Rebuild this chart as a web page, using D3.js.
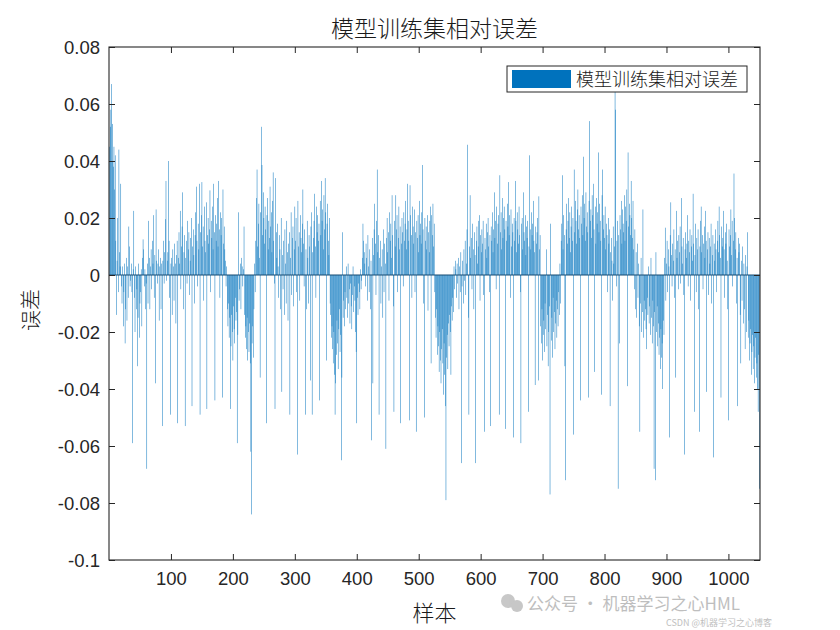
<!DOCTYPE html>
<html>
<head>
<meta charset="utf-8">
<script src="https://cdn.jsdelivr.net/npm/d3@7/dist/d3.min.js"></script>
<style>
html,body{margin:0;padding:0;background:#fff;}
svg{display:block;}
</style>
</head>
<body>
<svg id="chart" width="840" height="630"></svg>
<script>
const titleText = "模型训练集相对误差";
const legendText = "模型训练集相对误差";
const xLabel = "样本";
const yLabel = "误差";
const xTicks = [100,200,300,400,500,600,700,800,900,1000];
const xTickLabels = ["100","200","300","400","500","600","700","800","900","1000"];
const yTicks = [0.08,0.06,0.04,0.02,0,-0.02,-0.04,-0.06,-0.08,-0.1];
const yTickLabels = ["0.08","0.06","0.04","0.02","0","-0.02","-0.04","-0.06","-0.08","-0.1"];

const errors = [
0.045,0.052,0.058,0.067,0.04,0.053,0.038,0.045,0.03,0.042,
0.012,-0.014,0.005,0.02,-0.006,0.044,0.008,0.003,0.032,-0.004,
-0.01,0.003,-0.018,-0.006,0.004,-0.024,-0.012,0.006,-0.016,0.003,
-0.008,0.017,0.01,-0.004,-0.002,0.004,-0.006,-0.059,0.002,0.0225,
-0.008,-0.02,0.003,-0.012,-0.005,-0.032,-0.015,0.004,-0.022,-0.01,
-0.006,0.002,-0.018,0.006,0.0125,0.009,-0.004,0.002,-0.012,-0.003,
-0.068,0.004,-0.01,0.019,0.006,-0.012,0.003,0.009,-0.005,0.012,
0.004,0.021,-0.008,0.007,-0.038,0.023,0.005,-0.003,0.004,0.009,
-0.016,0.003,0.006,-0.012,0.004,-0.053,0.005,0.012,-0.003,0.008,
0.0196,0.033,-0.002,0.005,0.008,0.04,0.012,-0.008,-0.049,0.004,
0.006,-0.014,0.009,0.003,-0.009,0.011,0.004,-0.017,0.007,0.012,
-0.052,0.006,0.015,0.004,0.0225,-0.005,0.01,0.017,0.029,-0.012,
0.008,0.014,-0.053,0.006,0.012,-0.003,0.019,0.009,0.015,-0.007,
0.005,0.013,0.02,-0.046,0.01,0.016,0.007,-0.01,0.014,0.022,
0.031,0.012,-0.004,0.018,0.009,0.032,-0.049,0.015,0.021,0.0326,
0.01,0.017,-0.009,0.024,0.012,0.008,0.0255,-0.047,0.014,0.02,
0.011,0.016,0.0297,-0.006,0.019,0.013,0.024,0.009,0.032,0.015,
-0.044,0.021,0.012,0.018,0.027,0.01,0.033,0.016,-0.008,0.022,
0.014,0.02,-0.043,0.03,0.011,0.017,0.009,0.005,-0.004,0.003,
-0.012,-0.018,-0.01,-0.022,-0.015,-0.047,-0.025,-0.014,-0.02,-0.03,
-0.011,-0.019,-0.024,-0.008,-0.016,-0.013,-0.059,-0.021,0.022,-0.009,
-0.005,0.004,-0.012,0.006,0.003,-0.004,0.002,0.017,-0.014,-0.022,
-0.018,-0.026,-0.015,-0.03,-0.02,-0.027,-0.017,-0.031,-0.062,-0.084,
-0.024,-0.018,-0.029,-0.012,0.004,-0.006,0.012,0.027,0.037,0.01,
0.018,0.025,0.006,-0.036,0.022,0.052,0.0386,0.014,0.029,0.02,
0.011,0.024,0.016,-0.052,0.021,0.027,0.009,0.019,0.013,0.031,
0.017,0.022,0.008,0.026,0.036,0.012,-0.003,-0.047,0.034,0.015,
0.006,0.018,0.003,-0.008,0.014,0.009,-0.012,0.02,-0.041,0.007,
-0.005,0.012,-0.014,0.016,0.004,-0.01,0.019,0.008,-0.016,0.011,
0.015,-0.049,0.006,0.022,-0.007,0.013,0.017,-0.011,0.009,0.024,
0.012,0.02,-0.006,-0.063,0.026,0.01,0.015,-0.009,0.021,0.013,
0.008,0.018,0.03,0.011,-0.004,0.016,-0.049,0.009,-0.012,0.019,
0.006,-0.01,0.014,0.01,-0.037,0.017,0.022,-0.049,0.008,0.013,
0.019,0.0285,0.01,-0.008,0.024,0.015,0.021,0.012,0.018,-0.044,
0.026,0.014,0.033,0.019,0.023,0.009,0.028,0.016,0.034,0.022,
-0.03,0.018,0.025,0.012,0.007,0.02,-0.01,-0.014,-0.022,-0.018,
-0.026,-0.031,-0.02,-0.035,-0.049,-0.038,-0.028,-0.016,-0.024,-0.033,
-0.019,-0.012,-0.027,-0.021,-0.065,-0.036,0.015,-0.015,-0.009,-0.018,
-0.006,-0.012,0.003,-0.008,-0.015,0.004,-0.01,-0.005,-0.017,-0.003,
-0.011,-0.019,-0.007,0.003,-0.013,-0.004,-0.009,-0.02,-0.027,-0.052,
-0.008,-0.014,-0.003,-0.006,-0.012,0.002,-0.005,-0.002,0.006,0.018,
0.012,0.008,0.004,-0.004,0.011,0.006,-0.009,0.014,0.003,-0.006,
0.009,-0.012,0.005,-0.058,0.013,-0.038,0.007,0.016,0.025,0.011,
-0.007,0.019,0.037,0.008,0.014,-0.049,0.006,0.012,-0.01,0.003,
0.009,-0.015,0.016,-0.006,0.011,0.004,-0.061,0.013,0.02,0.008,
0.015,-0.009,0.022,0.012,0.018,0.006,0.028,0.014,-0.011,-0.048,
0.019,0.01,0.028,0.016,0.021,-0.006,0.013,0.024,0.009,0.017,
-0.052,0.011,0.02,0.015,-0.004,0.022,0.012,0.018,0.026,0.009,
0.016,0.032,0.019,0.012,-0.051,0.0315,0.021,0.014,-0.008,0.024,
0.017,0.011,0.023,-0.006,0.015,-0.055,0.019,0.013,0.021,0.008,
0.026,0.014,0.018,0.011,0.022,0.0386,0.016,-0.01,-0.05,0.02,
0.012,0.017,0.009,0.021,-0.0125,0.015,0.008,0.019,0.024,-0.031,
0.021,0.014,0.025,0.01,0.018,-0.006,-0.015,-0.022,-0.012,-0.028,
-0.018,-0.025,-0.034,-0.02,-0.03,-0.038,-0.026,-0.019,-0.031,-0.042,
-0.024,-0.035,-0.046,-0.079,-0.029,-0.021,-0.033,-0.017,-0.025,-0.014,
-0.02,-0.035,-0.011,-0.016,-0.008,-0.013,0.003,-0.005,0.005,0.002,
-0.008,0.004,-0.003,0.006,-0.012,0.003,-0.006,0.008,-0.066,-0.004,
0.005,-0.01,0.009,-0.002,0.012,-0.007,0.004,0.016,0.0457,-0.015,
-0.049,0.01,0.028,0.006,0.013,-0.005,0.018,0.009,-0.012,0.015,
0.007,-0.066,0.012,0.017,0.004,0.01,0.019,0.021,-0.009,0.014,
0.008,0.016,0.011,0.019,-0.007,-0.055,0.013,0.009,0.018,0.006,
0.015,0.02,0.01,-0.006,0.014,-0.053,0.017,0.012,0.022,0.008,
0.016,0.029,0.013,0.019,-0.005,0.024,0.011,0.018,0.021,-0.049,
0.035,0.015,0.022,0.009,0.027,0.013,0.02,0.024,0.016,-0.054,
0.019,0.012,0.025,0.017,0.0326,0.014,0.021,-0.008,0.023,0.01,
0.018,0.015,-0.057,0.02,0.012,0.033,0.019,0.008,0.022,0.016,
0.011,0.024,0.014,-0.006,-0.059,0.018,0.02,0.009,0.029,0.015,
0.012,0.021,0.007,0.017,0.013,0.019,-0.048,0.01,0.042,0.016,
0.009,0.022,0.014,0.018,0.026,0.012,0.008,-0.0386,0.017,0.011,
0.015,0.02,-0.037,0.0276,0.009,0.014,-0.018,-0.024,-0.012,-0.03,
-0.021,-0.016,-0.027,-0.01,-0.019,0.009,-0.025,-0.014,-0.032,-0.02,
-0.011,-0.077,0.018,-0.023,-0.015,-0.029,-0.008,-0.02,-0.013,-0.026,
-0.017,-0.009,-0.022,-0.012,-0.018,-0.006,-0.014,0.004,-0.01,0.012,
0.018,0.035,0.009,0.021,0.014,-0.032,-0.072,0.016,0.025,0.011,
0.019,0.027,0.013,0.022,0.008,0.017,0.024,0.012,0.02,-0.056,
0.037,0.015,0.026,0.019,0.011,0.023,0.03,0.016,0.021,0.013,
-0.044,0.024,0.018,0.028,0.014,0.0415,0.02,0.025,0.012,0.029,
0.017,0.022,0.015,-0.043,0.026,0.054,0.019,0.023,0.013,0.028,
0.021,0.032,0.016,-0.034,0.024,0.011,0.027,0.018,0.022,0.043,
0.015,0.025,0.019,0.012,-0.042,0.028,0.037,0.016,0.021,0.013,
0.024,0.009,0.018,0.014,-0.006,0.02,0.011,0.016,-0.046,0.008,
0.013,0.005,-0.009,0.017,0.004,0.01,0.065,0.058,-0.004,0.012,
0.019,-0.075,0.014,-0.024,0.021,0.016,0.026,0.011,0.023,0.018,
0.015,0.028,0.012,0.024,0.019,0.03,-0.039,0.043,0.017,0.025,
0.021,0.014,0.033,0.02,0.013,0.026,0.009,-0.005,0.016,-0.012,
0.008,-0.015,0.011,-0.008,0.004,-0.018,-0.055,-0.01,0.006,-0.02,
-0.013,0.023,-0.022,-0.009,-0.016,-0.012,-0.019,-0.026,-0.008,-0.014,
0.003,-0.017,-0.011,-0.021,0.006,-0.015,-0.024,-0.009,-0.018,-0.068,
-0.013,-0.072,0.008,-0.02,-0.011,-0.025,-0.017,-0.028,-0.022,-0.033,
-0.019,-0.029,-0.024,-0.04,-0.016,-0.021,0.006,0.0166,-0.009,0.004,
0.012,-0.006,0.009,0.003,-0.057,0.014,0.0255,0.007,-0.004,0.011,
0.005,0.016,-0.008,0.009,-0.036,0.0225,0.006,0.012,-0.005,0.014,
0.008,0.017,-0.003,0.027,0.01,0.004,0.013,-0.007,-0.063,0.009,
0.015,0.006,0.011,0.021,-0.004,0.012,0.008,0.016,-0.009,0.01,
0.014,0.005,0.0285,0.011,-0.048,0.007,0.018,-0.006,0.013,0.009,
0.016,-0.012,-0.055,0.01,0.019,0.024,0.008,0.014,-0.005,0.011,
0.017,0.006,0.0225,0.012,-0.041,0.009,0.015,-0.007,0.013,0.004,
0.01,0.018,-0.01,0.007,0.014,-0.064,0.011,0.005,0.016,0.009,
-0.006,0.012,0.019,0.008,0.024,0.014,0.006,-0.043,0.017,0.01,
0.013,0.0225,0.009,-0.008,0.015,0.011,0.018,0.005,-0.012,-0.051,
0.016,0.01,0.014,0.023,0.007,0.019,-0.004,0.012,0.0356,0.02,
0.009,0.015,-0.01,0.006,-0.046,0.013,0.008,0.011,-0.014,-0.031,
0.005,-0.009,0.01,-0.017,0.004,-0.012,-0.026,0.007,-0.02,0.003,
0.015,-0.022,-0.016,-0.03,-0.024,-0.019,-0.035,-0.027,-0.021,-0.033,
-0.025,-0.038,-0.029,-0.022,-0.036,-0.031,-0.04,-0.048,-0.028,-0.075
];
const samples = errors.map((_, i) => i + 1);

const W = 840, H = 630;
const m = {left:109, right:760, top:47, bottom:560};
const svg = d3.select("#chart");
const barColor = "#0072BD";
const axisColor = "#262626";
const numFont = "'Liberation Sans', Arial, Helvetica, sans-serif";
const cjkFont = "'Noto Sans CJK SC', 'Noto Sans CJK JP', sans-serif";

const x = d3.scaleLinear().domain([0, 1051]).range([m.left, m.right]);
const y = d3.scaleLinear().domain([-0.1, 0.08]).range([m.bottom, m.top]);

svg.append("rect").attr("x",0).attr("y",0).attr("width",W).attr("height",H).attr("fill","#fff");

const bw = (x(2) - x(1)) * 0.8;
svg.append("g").selectAll("rect").data(errors).join("rect")
  .attr("x", (d,i) => x(samples[i]) - bw/2)
  .attr("y", d => y(Math.max(0,d)))
  .attr("width", bw)
  .attr("height", d => Math.abs(y(d) - y(0)))
  .attr("fill", barColor);

// baseline
svg.append("line").attr("x1", m.left).attr("x2", m.right).attr("y1", y(0)).attr("y2", y(0))
  .attr("stroke", "#154a73").attr("stroke-width", 1.2);

// axes
const tickLen = 6;
const gxB = svg.append("g").attr("transform",`translate(0,${m.bottom})`)
  .call(d3.axisBottom(x).tickValues(xTicks).tickSizeInner(-tickLen).tickSizeOuter(0).tickPadding(12)
    .tickFormat((d,i) => xTickLabels[i]));
const gxT = svg.append("g").attr("transform",`translate(0,${m.top})`)
  .call(d3.axisTop(x).tickValues(xTicks).tickSizeInner(-tickLen).tickSizeOuter(0).tickFormat(""));
const gyL = svg.append("g").attr("transform",`translate(${m.left},0)`)
  .call(d3.axisLeft(y).tickValues(yTicks).tickSizeInner(-tickLen).tickSizeOuter(0).tickPadding(9)
    .tickFormat((d,i) => yTickLabels[i]));
const gyR = svg.append("g").attr("transform",`translate(${m.right},0)`)
  .call(d3.axisRight(y).tickValues(yTicks).tickSizeInner(-tickLen).tickSizeOuter(0).tickFormat(""));
[gxB,gxT,gyL,gyR].forEach(g => {
  g.select(".domain").remove();
  g.selectAll(".tick line").attr("stroke", axisColor).attr("stroke-width", 1);
  g.selectAll(".tick text").attr("fill", axisColor).attr("font-family", numFont).attr("font-size", 18.5);
});
gxB.selectAll(".tick text").attr("dy","0.71em");
gyL.selectAll(".tick text").attr("dy","0.35em");

// frame
svg.append("rect").attr("x",m.left).attr("y",m.top).attr("width",m.right-m.left).attr("height",m.bottom-m.top)
  .attr("fill","none").attr("stroke",axisColor).attr("stroke-width",1.1);

// title
svg.append("text").attr("x",(m.left+m.right)/2).attr("y",37).attr("text-anchor","middle")
  .attr("font-family",cjkFont).attr("font-weight",300).attr("font-size",23).attr("fill","#1a1a1a").text(titleText);

// axis labels
svg.append("text").attr("x",(m.left+m.right)/2).attr("y",621).attr("text-anchor","middle")
  .attr("font-family",cjkFont).attr("font-weight",300).attr("font-size",22).attr("fill","#1a1a1a").text(xLabel);
svg.append("text").attr("transform","translate(38,310) rotate(-90)").attr("text-anchor","middle")
  .attr("font-family",cjkFont).attr("font-weight",300).attr("font-size",21).attr("fill","#1a1a1a").text(yLabel);

// legend
const lg = svg.append("g");
lg.append("rect").attr("x",507).attr("y",66).attr("width",240).attr("height",26)
  .attr("fill","#fff").attr("stroke",axisColor).attr("stroke-width",1);
lg.append("rect").attr("x",512).attr("y",70).attr("width",59).attr("height",18).attr("fill",barColor);
lg.append("text").attr("x",576).attr("y",86).attr("font-family",cjkFont).attr("font-weight",300)
  .attr("font-size",18).attr("fill","#1a1a1a").text(legendText);

// watermark
const wm = svg.append("g").attr("opacity",0.55);
wm.append("circle").attr("cx",508).attr("cy",601).attr("r",7).attr("fill","#9a9a9a");
wm.append("circle").attr("cx",517).attr("cy",606).attr("r",6).attr("fill","#9a9a9a");
wm.append("text").attr("x",527).attr("y",610).attr("font-family",cjkFont).attr("font-size",17)
  .attr("fill","#8a8a8a").text("公众号 · 机器学习之心HML");
wm.append("text").attr("x",666).attr("y",626).attr("font-family",cjkFont).attr("font-size",9)
  .attr("fill","#8a8a8a").text("CSDN @机器学习之心博客");
</script>
</body>
</html>
